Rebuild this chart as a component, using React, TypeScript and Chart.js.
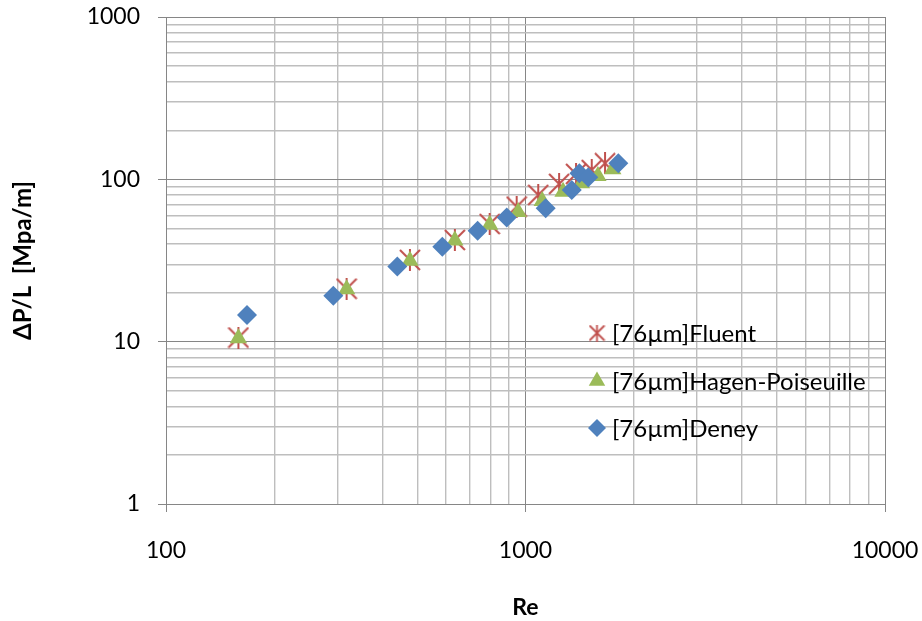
import { useEffect, useRef } from 'react';
import { Chart, registerables } from 'chart.js';

Chart.register(...registerables);

// ---- data ----
const fluentRe = [159, 318, 477, 636, 795, 945, 1085, 1240, 1382, 1528, 1664];
const fluentDp = [10.6, 21.2, 31.9, 42.3, 53.1, 67.9, 80.2, 93.7, 108, 114.2, 125.7];

const hpRe = [159, 318, 477, 636, 795, 954, 1113, 1272, 1431, 1590, 1749];
const hpDp = [10.5, 21, 31.5, 42, 52.5, 63, 73.5, 84, 94.5, 105, 115.5];

const deneyRe = [168, 292, 440, 587, 736, 887, 1138, 1345, 1412, 1495, 1812];
const deneyDp = [14.6, 19.2, 29.0, 38.5, 48.3, 58.1, 66.4, 86.1, 109, 103, 125.7];

const seriesNames = ['[76\u00b5m]Fluent', '[76\u00b5m]Hagen-Poiseuille', '[76\u00b5m]Deney'];

const xDecades = [100, 1000, 10000];
const yDecades = [1, 10, 100, 1000];

const xTitle = 'Re';
const yTitle = '\u0394P/L  [Mpa/m]';

// ---- styles ----
const FONT = 'Lato, "Open Sans", "Liberation Sans", sans-serif';
const RED = '#C0504D';
const GREEN = '#9BBB59';
const BLUE = '#4F81BD';
const MAJOR = '#868686';
const MINOR = '#bebebe';

function logTicks(decades: number[]) {
  const out: number[] = [];
  for (let i = 0; i < decades.length; i++) {
    const d = decades[i];
    out.push(d);
    if (i < decades.length - 1) {
      for (let m = 2; m <= 9; m++) out.push(d * m);
    }
  }
  return out;
}

const isDecade = (v: number) => {
  const l = Math.log10(v);
  return Math.abs(l - Math.round(l)) < 1e-9;
};

function makeStar(size: number, lw: number, color: string) {
  const c = document.createElement('canvas');
  c.width = size;
  c.height = size;
  const g = c.getContext('2d')!;
  g.strokeStyle = color;
  g.lineWidth = lw;
  const m = 1;
  g.beginPath();
  g.moveTo(m, m);
  g.lineTo(size - m, size - m);
  g.moveTo(size - m, m);
  g.lineTo(m, size - m);
  g.moveTo(size / 2, 0);
  g.lineTo(size / 2, size);
  g.stroke();
  return c;
}

export default function App() {
  const ref = useRef<HTMLCanvasElement>(null);

  useEffect(() => {
    const star = makeStar(22, 2, RED);
    const legendStar = makeStar(17, 1.8, RED);

    const legendPlugin = {
      id: 'excelLegend',
      afterDraw(chart: any) {
        const ctx = chart.ctx as CanvasRenderingContext2D;
        ctx.save();
        const mx = 597;
        const tx = 612;
        const ys = [333, 381, 428];
        // Fluent
        ctx.drawImage(legendStar, mx - 8.5, ys[0] - 8.5);
        // HP triangle
        ctx.fillStyle = GREEN;
        ctx.beginPath();
        const r = 9.5;
        ctx.moveTo(mx, ys[1] - r);
        ctx.lineTo(mx + r * Math.sin((2 * Math.PI) / 3), ys[1] + r / 2);
        ctx.lineTo(mx - r * Math.sin((2 * Math.PI) / 3), ys[1] + r / 2);
        ctx.closePath();
        ctx.fill();
        // Deney diamond
        ctx.fillStyle = BLUE;
        const d = 9;
        ctx.beginPath();
        ctx.moveTo(mx, ys[2] - d);
        ctx.lineTo(mx + d, ys[2]);
        ctx.lineTo(mx, ys[2] + d);
        ctx.lineTo(mx - d, ys[2]);
        ctx.closePath();
        ctx.fill();
        ctx.fillStyle = '#000';
        ctx.font = `24px ${FONT}`;
        ctx.textBaseline = 'middle';
        ctx.textAlign = 'left';
        seriesNames.forEach((n, i) => ctx.fillText(n, tx, ys[i] + 1));
        ctx.restore();
      },
    };

    const gridColor = (c: any) => (c.tick && isDecade(c.tick.value) ? MAJOR : MINOR);
    const gridWidth = (c: any) => (c.tick && isDecade(c.tick.value) ? 1 : 1.4);
    const tickColor = (c: any) => (c.tick && isDecade(c.tick.value) ? MAJOR : 'rgba(0,0,0,0)');

    const chart = new Chart(ref.current!, {
      type: 'scatter',
      data: {
        datasets: [
          {
            label: seriesNames[0],
            data: fluentRe.map((x, i) => ({ x, y: fluentDp[i] })),
            pointStyle: star as any,
            order: 3,
          },
          {
            label: seriesNames[1],
            data: hpRe.map((x, i) => ({ x, y: hpDp[i] })),
            pointStyle: 'triangle',
            pointRadius: 10,
            backgroundColor: GREEN,
            borderColor: GREEN,
            borderWidth: 0,
            order: 2,
          },
          {
            label: seriesNames[2],
            data: deneyRe.map((x, i) => ({ x, y: deneyDp[i] })),
            pointStyle: 'rectRot',
            pointRadius: 10,
            backgroundColor: BLUE,
            borderColor: BLUE,
            borderWidth: 0,
            order: 1,
          },
        ],
      },
      options: {
        animation: false,
        responsive: true,
        maintainAspectRatio: false,
        layout: { padding: { left: 0, top: 17, right: 37, bottom: 0 } },
        plugins: {
          legend: { display: false },
          tooltip: { enabled: false },
        },
        scales: {
          x: {
            type: 'logarithmic',
            min: 100,
            max: 10000,
            afterBuildTicks: (s: any) => {
              s.ticks = logTicks(xDecades).map((v) => ({ value: v }));
            },
            afterFit: (s: any) => {
              s.height = 117;
              s.paddingLeft = 0;
              s.paddingRight = 0;
            },
            ticks: {
              autoSkip: false,
              maxRotation: 0,
              minRotation: 0,
              padding: 25,
              color: '#000',
              font: { family: FONT, size: 23 },
              callback: (v: any) => (isDecade(Number(v)) ? String(v) : ''),
            },
            grid: { color: gridColor, lineWidth: gridWidth, tickColor, tickLength: 8 },
            border: { color: MAJOR, width: 1 },
            title: {
              display: true,
              text: xTitle,
              color: '#000',
              font: { family: FONT, size: 23, weight: 'bold' },
              padding: { top: 9, bottom: 0 },
            },
          },
          y: {
            type: 'logarithmic',
            min: 1,
            max: 1000,
            afterBuildTicks: (s: any) => {
              s.ticks = logTicks(yDecades).map((v) => ({ value: v }));
            },
            afterFit: (s: any) => {
              s.width = 166;
              s.paddingTop = 0;
              s.paddingBottom = 0;
            },
            ticks: {
              autoSkip: false,
              padding: 18,
              color: '#000',
              font: { family: FONT, size: 23 },
              callback: (v: any) => (isDecade(Number(v)) ? String(v) : ''),
            },
            grid: { color: gridColor, lineWidth: gridWidth, tickColor, tickLength: 8 },
            border: { color: MAJOR, width: 1 },
            title: {
              display: true,
              text: yTitle,
              color: '#000',
              font: { family: FONT, size: 24, weight: 'bold' },
              padding: { top: 9, bottom: 0 },
            },
          },
        },
      },
      plugins: [legendPlugin],
    } as any);

    return () => chart.destroy();
  }, []);

  return (
    <div style={{ position: 'fixed', left: 0, top: 0, width: 922, height: 621, background: '#fff' }}>
      <canvas ref={ref} />
    </div>
  );
}
